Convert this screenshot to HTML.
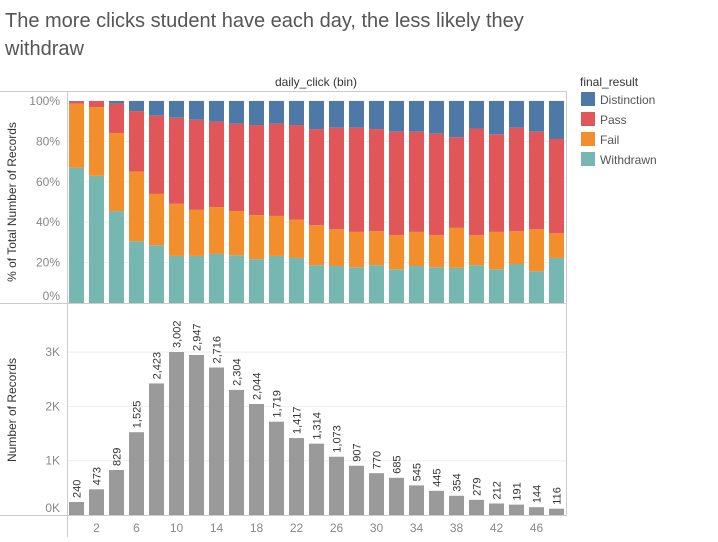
<!DOCTYPE html>
<html><head><meta charset="utf-8"><style>
body{margin:0;background:#fff;width:718px;height:537px;overflow:hidden;font-family:"Liberation Sans",sans-serif}
</style></head><body>
<svg id="c" width="718" height="537" xmlns="http://www.w3.org/2000/svg" font-family="Liberation Sans, sans-serif">
<text x="5" y="27" font-size="20" fill="#555">The more clicks student have each day, the less likely they</text>
<text x="5" y="55" font-size="20" fill="#555">withdraw</text>
<text x="316" y="86" font-size="12" fill="#333" text-anchor="middle">daily_click (bin)</text>
<line x1="0" y1="91.5" x2="566" y2="91.5" stroke="#ccc"/>
<line x1="67.5" y1="91" x2="67.5" y2="537" stroke="#ccc"/>
<line x1="566.5" y1="91" x2="566.5" y2="516" stroke="#ccc"/>
<line x1="0" y1="303.5" x2="566" y2="303.5" stroke="#ccc"/>
<line x1="0" y1="515.5" x2="566" y2="515.5" stroke="#ccc"/>
<text transform="translate(16,202) rotate(-90)" font-size="12" fill="#333" text-anchor="middle">% of Total Number of Records</text>
<text transform="translate(16,410) rotate(-90)" font-size="12" fill="#333" text-anchor="middle">Number of Records</text>
<g>
<text x="580" y="86" font-size="12" fill="#333">final_result</text>
<rect x="581" y="92" width="14" height="14" fill="#4e79a7"/>
<text x="600" y="104" font-size="12" fill="#555">Distinction</text>
<rect x="581" y="112" width="14" height="14" fill="#e15759"/>
<text x="600" y="124" font-size="12" fill="#555">Pass</text>
<rect x="581" y="132" width="14" height="14" fill="#f28e2b"/>
<text x="600" y="144" font-size="12" fill="#555">Fail</text>
<rect x="581" y="152" width="14" height="14" fill="#76b7b2"/>
<text x="600" y="164" font-size="12" fill="#555">Withdrawn</text>
</g>
<g id="g"></g>
</svg>
<script>
const bins=[0,2,4,6,8,10,12,14,16,18,20,22,24,26,28,30,32,34,36,38,40,42,44,46,48];
const counts=[240,473,829,1525,2423,3002,2947,2716,2304,2044,1719,1417,1314,1073,907,770,685,545,445,354,279,212,191,144,116];
const withdrawn=[66.9,63.0,45.5,30.6,28.6,23.3,23.3,24.3,23.6,21.7,23.3,22.3,18.7,18.3,17.7,18.7,16.7,18.3,17.7,17.4,18.7,16.7,19.3,15.7,22.3];
const fail=[31.8,34.0,38.6,34.4,25.4,25.8,22.8,23.1,21.9,21.8,19.8,18.9,19.8,18.2,17.5,16.8,16.9,16.9,15.9,19.8,14.9,18.5,16.2,20.8,12.2];
const pass=[1.0,3.0,14.6,30.0,38.7,42.6,44.6,42.4,43.3,44.6,45.7,46.9,47.6,50.3,51.6,50.6,51.2,49.6,50.2,44.9,52.8,48.3,51.3,48.3,46.7];
const distinction=[0.3,0,1.3,5.0,7.3,8.3,9.3,10.2,11.2,11.9,11.2,11.9,13.9,13.2,13.2,13.9,15.2,15.2,16.2,17.9,13.6,16.5,13.2,15.2,18.8];
const pctTicks=[0,20,40,60,80,100];
const cntTicks=[0,1000,2000,3000];
const xTickLabels=[2,6,10,14,18,22,26,30,34,38,42,46];
const NS="http://www.w3.org/2000/svg",g=document.getElementById('g');
const xL=i=>69+i*20, bw=15;
const yP=v=>303-v*2.02;
const yC=v=>515-v*0.0543;
function el(t,a,txt){const e=document.createElementNS(NS,t);for(const k in a)e.setAttribute(k,a[k]);if(txt!=null)e.textContent=txt;g.appendChild(e);return e;}
pctTicks.forEach(t=>{
 if(t>0){const l=el('line',{x1:68,x2:566,y1:yP(t),y2:yP(t),stroke:'#eee'});}
 const e=el('text',{x:60,y:yP(t)+4-(t===0?7:0),'font-size':12,fill:'#888','text-anchor':'end'},t+'%');
 
 
});
cntTicks.forEach(t=>{
 if(t>0){const l=el('line',{x1:68,x2:566,y1:yC(t),y2:yC(t),stroke:'#eee'});}
 const e=el('text',{x:60,y:yC(t)+4-(t===0?7:0),'font-size':12,fill:'#888','text-anchor':'end'},(t/1000)+'K');
 
 
});
const series=[[withdrawn,'#76b7b2','withdrawn'],[fail,'#f28e2b','fail'],[pass,'#e15759','pass'],[distinction,'#4e79a7','distinction']];
bins.forEach((b,i)=>{
 let acc=0;
 series.forEach(([arr,col,nm])=>{
  const v=arr[i];if(v<=0)return;
  const r=el('rect',{x:xL(i),y:yP(acc+v),width:bw,height:yP(acc)-yP(acc+v),fill:col});
  
  
  acc+=v;
 });
 const c=counts[i];
 const r=el('rect',{x:xL(i),y:yC(c),width:bw,height:515-yC(c),fill:'#9a9a9a'});
 
 
 const cx=xL(i)+bw/2+4,cy=yC(c)-4;
 const t=el('text',{x:cx,y:cy,'font-size':11,fill:'#333',transform:`rotate(-90 ${cx} ${cy})`},c.toLocaleString('en-US'));
 
 
});
xTickLabels.forEach(v=>{
 const i=bins.indexOf(v);
 const t=el('text',{x:xL(i)+bw/2,y:532,'font-size':12,fill:'#888','text-anchor':'middle'},v);
 
 
});
</script>
</body></html>
